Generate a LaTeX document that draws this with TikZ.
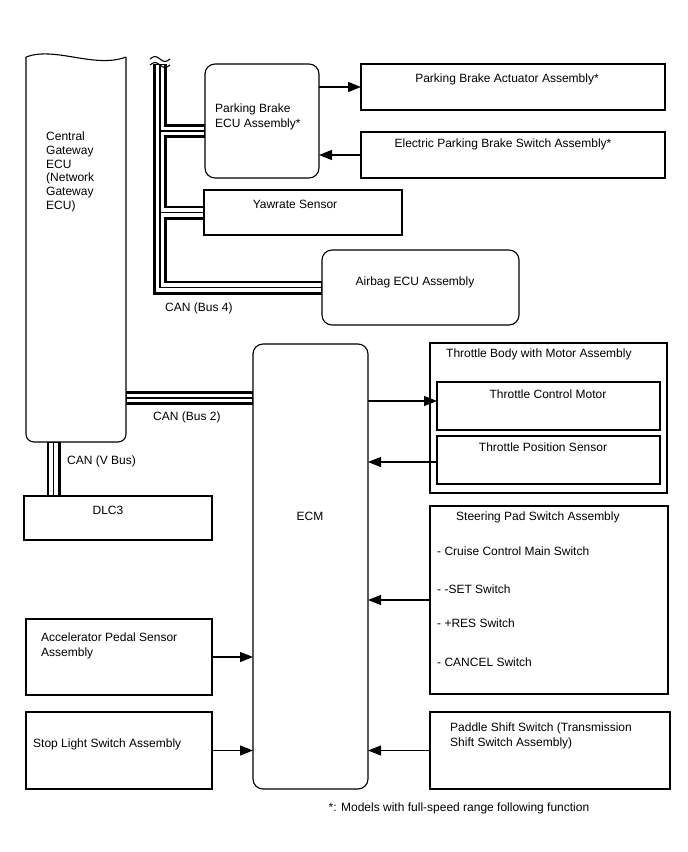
\documentclass[tikz,border=0pt]{standalone}
\usepackage{fontspec}
\setmainfont{Liberation Sans}
\usetikzlibrary{positioning,arrows.meta}

\begin{document}
\begin{tikzpicture}[x=1pt,y=-1pt,>={Triangle[length=13pt,width=10pt]},
  font=\fontsize{12}{15}\selectfont,
  box/.style={draw,line width=1.1pt,inner sep=0pt,outer sep=0pt},
  ecu/.style={box,rounded corners=10pt},
  txt/.style={inner sep=0pt,align=left},
  sig/.style={->,line width=1.1pt},
  busout/.style={line width=14pt},
  busin/.style={line width=8.4pt,white,shorten >=0.6pt,shorten <=0.6pt},
  buscore/.style={line width=1.7pt}]
\useasboundingbox (0,0) rectangle (688,852);

% units
\node[minimum width=100pt,minimum height=385pt,inner sep=0pt,outer sep=0pt] (gw) at (76,249.5) {};
\node[ecu,minimum width=114pt,minimum height=114pt] (pbecu) at (262,121) {};
\node[box,minimum width=304pt,minimum height=46pt] (act) at (513,87) {};
\node[box,minimum width=304pt,minimum height=46pt] (esw) at (513,155) {};
\node[box,minimum width=198pt,minimum height=45pt] (yaw) at (303,212.5) {};
\node[ecu,minimum width=197pt,minimum height=75pt] (airbag) at (420.5,287.5) {};
\node[ecu,minimum width=115pt,minimum height=445pt] (ecm) at (310.5,566.5) {};
\node[box,minimum width=237pt,minimum height=150pt] (tbody) at (548.5,418) {};
\node[box,minimum width=223pt,minimum height=48pt] (tcm) at (548.5,406) {};
\node[box,minimum width=223pt,minimum height=48pt] (tps) at (548.5,460) {};
\node[box,minimum width=238pt,minimum height=188pt] (spad) at (549,600) {};
\node[box,minimum width=240pt,minimum height=77pt] (paddle) at (550,750.5) {};
\node[box,minimum width=186pt,minimum height=76pt] (accel) at (119,657) {};
\node[box,minimum width=186pt,minimum height=77pt] (stop) at (119,750.5) {};
\node[box,minimum width=188pt,minimum height=44pt] (dlc) at (118,518) {};

% gateway outline with torn top
\draw[line width=1.1pt,rounded corners=8pt] (gw.north west) -- (gw.south west) -- (gw.south east) -- (gw.north east);
\draw[line width=1.1pt] (gw.north west) .. controls +(29,-11) and +(-31,12) .. (gw.north east);

% texts
\node[txt,anchor=north west,font=\fontsize{12}{13.8}\selectfont] (gwtxt) at (46,131.5) {Central\\Gateway\\ECU\\(Network\\Gateway\\ECU)};
\node[txt,anchor=north west] (pbecutxt) at (215,103.5) {Parking Brake\\ECU Assembly*};
\node[txt,anchor=base] (acttxt) at (507,82.3) {Parking Brake Actuator Assembly*};
\node[txt,anchor=base] (eswtxt) at (503,147.3) {Electric Parking Brake Switch Assembly*};
\node[txt,anchor=base] (yawtxt) at (295,208.3) {Yawrate Sensor};
\node[txt,anchor=base] (airbagtxt) at (415,285.3) {Airbag ECU Assembly};
\node[txt,anchor=base west] (bus4txt) at (165,311.3) {CAN (Bus 4)};
\node[txt,anchor=base west] (bus2txt) at (153,420) {CAN (Bus 2)};
\node[txt,anchor=base west] (busvtxt) at (67,464.3) {CAN (V Bus)};
\node[txt,anchor=base] (dlctxt) at (108,514.3) {DLC3};
\node[txt,anchor=base] (ecmtxt) at (310,520.3) {ECM};
\node[txt,anchor=base west] (tbodytxt) at (446,357.3) {Throttle Body with Motor Assembly};
\node[txt,anchor=base] (tcmtxt) at (548,398.3) {Throttle Control Motor};
\node[txt,anchor=base] (tpstxt) at (543,451.3) {Throttle Position Sensor};
\node[txt,anchor=base west] (spadtxt) at (456,520.3) {Steering Pad Switch Assembly};
\node[txt,anchor=base west] (sw1) at (437,555.3) {- Cruise Control Main Switch};
\node[txt,anchor=base west] (sw2) at (437,593.3) {- -SET Switch};
\node[txt,anchor=base west] (sw3) at (437,627.3) {- +RES Switch};
\node[txt,anchor=base west] (sw4) at (437,666.3) {- CANCEL Switch};
\node[txt,anchor=north west] (acceltxt) at (41,632.7) {Accelerator Pedal Sensor\\Assembly};
\node[txt,anchor=base west] (stoptxt) at (33,747.3) {Stop Light Switch Assembly};
\node[txt,anchor=north west] (paddletxt) at (450,722.7) {Paddle Shift Switch (Transmission\\Shift Switch Assembly)};
\node[txt,anchor=base] (note) at (459,811.3) {*: Models with full-speed range following function};

% CAN lines
\coordinate (b4top) at (160,64);
\coordinate (b4bot) at (b4top |- airbag.west);
\coordinate (pbin) at ([yshift=-10pt]pbecu.west);
\coordinate (b2) at (gw.east |- 0,398);
\coordinate (bv) at (gw.south -| 53.5,0);
\foreach \s in {busout,busin,buscore}{
  \draw[\s] (b4top) -- (b4bot) -- (airbag.west);
  \draw[\s] (b4top |- pbin) -- (pbin);
  \draw[\s] (b4top |- yaw.west) -- (yaw.west);
  \draw[\s] (b2) -- (b2 -| ecm.west);
  \draw[\s] (bv) -- (bv |- dlc.north);
}
\foreach \dy in {59,65}
  \draw[line width=1.1pt] (150,\dy) sin (155,\dy-2.5) cos (160,\dy) sin (165,\dy+2.5) cos (170,\dy);

% signals
\coordinate (tcmin) at ([yshift=5pt]tcm.west);
\coordinate (tpsout) at ([yshift=-2pt]tps.west);
\draw[sig] (pbecu.east |- act.west) -- (act.west);
\draw[sig] (esw.west) -- (esw.west -| pbecu.east);
\draw[sig] (ecm.east |- tcmin) -- (tcmin);
\draw[sig] (tpsout) -- (tpsout -| ecm.east);
\draw[sig] (spad.west) -- (spad.west -| ecm.east);
\draw[sig] (paddle.west) -- (paddle.west -| ecm.east);
\draw[sig] (accel.east) -- (accel.east -| ecm.west);
\draw[sig] (stop.east) -- (stop.east -| ecm.west);
\end{tikzpicture}
\end{document}
